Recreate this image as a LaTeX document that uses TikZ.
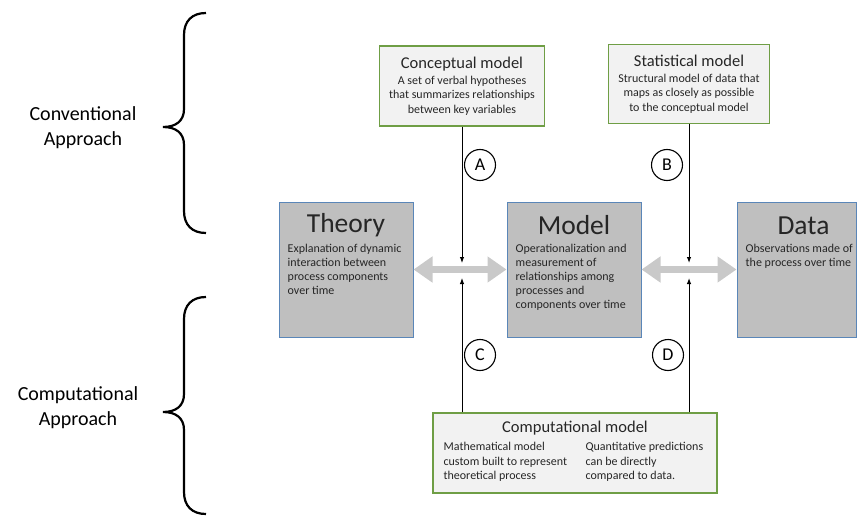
\documentclass[tikz,border=0pt]{standalone}
\usepackage{fontspec}
\setmainfont{Carlito}
\usetikzlibrary{arrows.meta,positioning}
\definecolor{boxgray}{HTML}{BFBFBF}
\definecolor{boxblue}{HTML}{5A86B8}
\definecolor{boxgreen}{HTML}{6F9E45}
\definecolor{palegray}{HTML}{F2F2F2}
\definecolor{arrowgray}{HTML}{C9C9C9}
\definecolor{txt}{HTML}{262626}
\newcommand\headsize{\fontsize{16.5}{19}\selectfont}

\begin{document}
\begin{tikzpicture}[x=1pt,y=-1pt,
	partbox/.style={draw=boxblue,line width=1pt,fill=boxgray,minimum width=134pt,minimum height=135pt,inner sep=0pt},
	parttitle/.style={font=\fontsize{27.5}{30}\selectfont,text=txt,inner sep=0pt},
	parttext/.style={font=\fontsize{12}{14}\selectfont,text=txt,align=left,anchor=north west,inner sep=0pt},
	modelbox/.style={draw=boxgreen,line width=1.2pt,fill=palegray,text=txt,align=center,inner sep=0pt,font=\fontsize{12}{14.5}\selectfont},
	link/.style={line width=1pt,-{Latex[length=6pt,width=4.5pt]}},
	swap/.style={arrowgray,line width=7pt,{Triangle[length=19pt,width=25pt]}-{Triangle[length=19pt,width=25pt]}},
	tag/.style={circle,draw,line width=1.1pt,minimum size=31pt,inner sep=0pt,font=\fontsize{18}{18}\selectfont},
	side/.style={font=\fontsize{20}{25}\selectfont,align=center}]
	\useasboundingbox (0,0) rectangle (857,516);
	
	% the three parts
	\node[partbox] (theory) at (346,269.5) {};
	\node[partbox] (model) at (574,269.5) {};
	\node[partbox,minimum width=119pt] (data) at (796.5,269.5) {};
	\node[parttitle] at ([yshift=-24pt]theory.north) {Theory};
	\node[parttitle] at ([yshift=-24pt]model.north) {Model};
	\node[parttitle] at ([xshift=7pt,yshift=-24pt]data.north) {Data};
	\node[parttext] at ([xshift=9pt,yshift=-42pt]theory.north west) {Explanation of dynamic\\interaction between\\process components\\over time};
	\node[parttext] at ([xshift=9pt,yshift=-42pt]model.north west) {Operationalization and\\measurement of\\relationships among\\processes and\\components over time};
	\node[parttext] at ([xshift=9pt,yshift=-42pt]data.north west) {Observations made of\\the process over time};
	
	% model boxes
	\node[modelbox,minimum width=165pt,minimum height=80pt] (concept) at (462,86) {{\headsize Conceptual model}\\[1pt]A set of verbal hypotheses\\that summarizes relationships\\between key variables};
	\node[modelbox,minimum width=161pt,minimum height=79pt] (stat) at (689,84) {{\headsize Statistical model}\\[1pt]Structural model of data that\\maps as closely as possible\\to the conceptual model};
	\node[modelbox,minimum width=284pt,minimum height=80pt] (comp) at (575,453) {};
	\node[text=txt,font=\headsize] at ([yshift=-16pt]comp.north) {Computational model};
	\node[parttext,font=\fontsize{12}{14.5}\selectfont] at ([xshift=11pt,yshift=-30pt]comp.north west) {Mathematical model\\custom built to represent\\theoretical process};
	\node[parttext,font=\fontsize{12}{14.5}\selectfont] at ([xshift=153pt,yshift=-30pt]comp.north west) {Quantitative predictions\\can be directly\\compared to data.};
	
	% links
	\draw[swap] (theory.east) -- (model.west);
	\draw[swap] (model.east) -- (data.west);
	\coordinate (tm) at (462,270);
	\coordinate (md) at (689,270);
	\draw[link] (concept.south) -- ([yshift=7pt]tm);
	\draw[link] (stat.south) -- ([yshift=7pt]md);
	\draw[link] (comp.north -| tm) -- ([yshift=-8pt]tm);
	\draw[link] (comp.north -| md) -- ([yshift=-8pt]md);
	\node[tag] (a) at (480,165) {A};
	\node[tag] (b) at (667,165) {B};
	\node[tag] (c) at (480,355) {C};
	\node[tag] (d) at (668,355) {D};
	
	% approaches
	\foreach \ya/\ym/\yb in {13/127/233, 297/412/514}
	\draw[line width=2.2pt] (206,\ya) .. controls (192,\ya) and (184,\ya+8) .. (184,\ya+22) -- (184,\ym-18) .. controls (184,\ym-6) and (176,\ym) .. (163,\ym) .. controls (176,\ym) and (184,\ym+6) .. (184,\ym+18) -- (184,\yb-22) .. controls (184,\yb-8) and (192,\yb) .. (206,\yb);
	\node[side] (conv) at (83,128) {Conventional\\Approach};
	\node[side] (compu) at (78,408) {Computational\\Approach};
\end{tikzpicture}
\end{document}
